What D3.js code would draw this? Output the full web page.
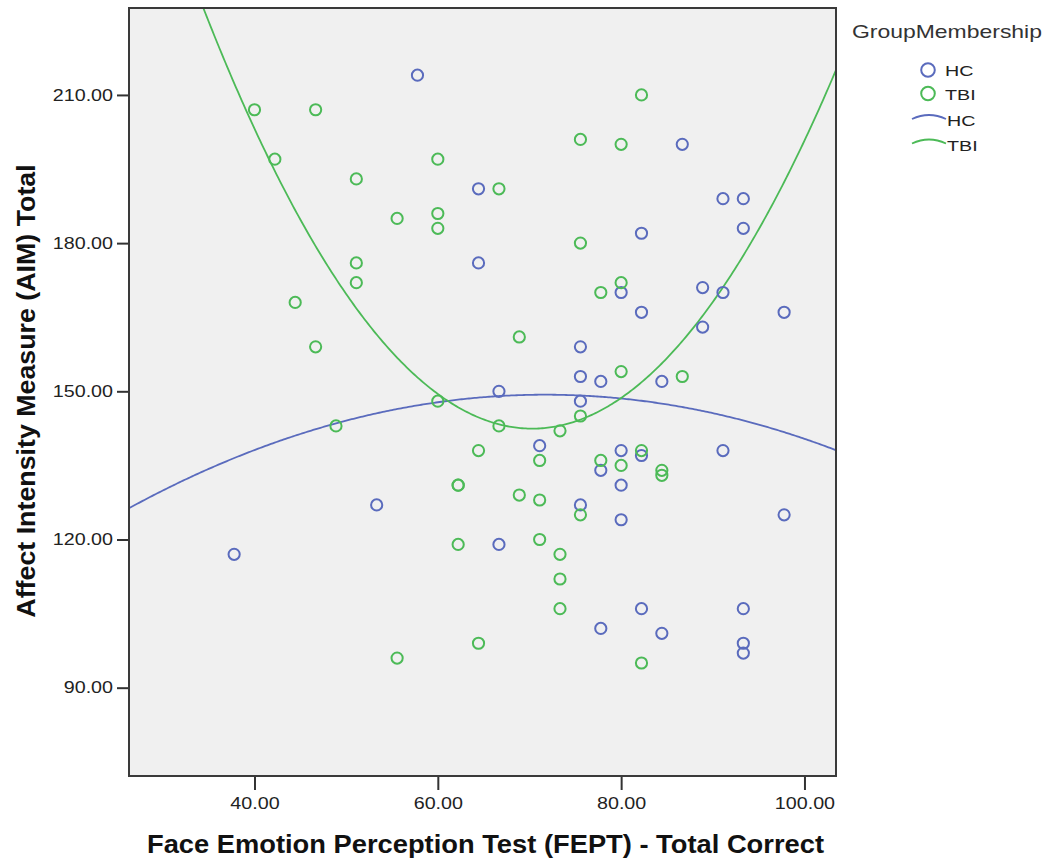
<!DOCTYPE html>
<html>
<head>
<meta charset="utf-8">
<script src="https://cdn.jsdelivr.net/npm/d3@7/dist/d3.min.js"></script>
<style>
  html, body { margin: 0; padding: 0; background: #ffffff; }
  svg { display: block; }
  text { font-family: "Liberation Sans", Arial, sans-serif; }
</style>
</head>
<body>
<svg id="chart" width="1045" height="861"></svg>
<script>
// ---------- data ----------
const groups = ["HC", "TBI"];
const groupColors = ["#5a6bbd", "#4cba57"];

// HC: FEPT total correct (%) and AIM total
const hcFept = [57.78, 64.44, 64.44, 86.67, 91.11, 93.33, 93.33, 82.22, 88.89, 91.11,
                80.00, 82.22, 97.78, 88.89, 75.56, 75.56, 77.78, 84.44, 66.67, 75.56,
                71.11, 80.00, 91.11, 82.22, 77.78, 80.00, 75.56, 80.00, 97.78, 53.33,
                37.78, 66.67, 82.22, 93.33, 77.78, 84.44, 93.33, 93.33];
const hcAim  = [214, 191, 176, 200, 189, 189, 183, 182, 171, 170,
                170, 166, 166, 163, 159, 153, 152, 152, 150, 148,
                139, 138, 138, 137, 134, 131, 127, 124, 125, 127,
                117, 119, 106, 106, 102, 101, 99, 97];

// TBI
const tbiFept = [40.00, 46.67, 42.22, 60.00, 66.67, 51.11, 55.56, 60.00, 60.00, 51.11,
                 51.11, 44.44, 46.67, 60.00, 48.89, 66.67, 82.22, 75.56, 80.00, 75.56,
                 80.00, 77.78, 68.89, 80.00, 86.67, 75.56, 73.33, 64.44, 62.22, 62.22,
                 62.22, 64.44, 55.56, 71.11, 77.78, 80.00, 82.22, 84.44, 84.44, 68.89,
                 71.11, 75.56, 71.11, 73.33, 73.33, 73.33, 82.22];
const tbiAim  = [207, 207, 197, 197, 191, 193, 185, 186, 183, 176,
                 172, 168, 159, 148, 143, 143, 210, 201, 200, 180,
                 172, 170, 161, 154, 153, 145, 142, 138, 131, 131,
                 119, 99, 96, 136, 136, 135, 138, 134, 133, 129,
                 128, 125, 120, 117, 112, 106, 95];

// quadratic fit lines: positions
const hcFitX  = [26.3, 31.9, 48.9, 59.9, 67.9, 73.35, 77.7, 88.6, 103.44];
const hcFitY  = [126.3, 131.5, 143.7, 147.7, 149.3, 149.7, 149.1, 144.9, 138.6];
const tbiFitX = [34.3, 39.2, 41.7, 47.9, 53.4, 60.6, 66.5, 70.4, 75.4, 79.8, 88.6, 96.0, 103.44];
const tbiFitY = [227.6, 206.6, 197.1, 176.2, 160.4, 148.3, 143.7, 142.6, 144.7, 148.9, 164.5, 183.8, 216.5];

const xTicks = [40, 60, 80, 100];
const yTicks = [90, 120, 150, 180, 210];
const xDomain = [26.31, 103.44];
const yDomain = [72.12, 227.6];

const xTitle = "Face Emotion Perception Test (FEPT) - Total Correct";
const yTitle = "Affect Intensity Measure (AIM) Total";
const legendTitle = "GroupMembership";

// ---------- layout ----------
const plot = { left: 129, right: 836, top: 8, bottom: 776 };
const svg = d3.select("#chart");

const x = d3.scaleLinear().domain(xDomain).range([plot.left, plot.right]);
const y = d3.scaleLinear().domain(yDomain).range([plot.bottom, plot.top]);

function stretch(sel, f) {
  sel.each(function () {
    const len = this.getComputedTextLength();
    d3.select(this).attr("textLength", len * f).attr("lengthAdjust", "spacingAndGlyphs");
  });
}

// least-squares quadratic (the chart's "quadratic fit line")
function quadFit(xs, ys) {
  const S = [[0,0,0],[0,0,0],[0,0,0]], T = [0,0,0];
  xs.forEach((xv, i) => {
    const p = [1, xv, xv * xv];
    for (let r = 0; r < 3; r++) { T[r] += p[r] * ys[i]; for (let c = 0; c < 3; c++) S[r][c] += p[r] * p[c]; }
  });
  const M = S.map((row, r) => row.concat([T[r]]));
  for (let i = 0; i < 3; i++)
    for (let k = i + 1; k < 3; k++) {
      const f = M[k][i] / M[i][i];
      for (let j = i; j < 4; j++) M[k][j] -= f * M[i][j];
    }
  const b = [0,0,0];
  for (let i = 2; i >= 0; i--) {
    let s = M[i][3];
    for (let j = i + 1; j < 3; j++) s -= M[i][j] * b[j];
    b[i] = s / M[i][i];
  }
  return v => b[0] + b[1] * v + b[2] * v * v;
}

// plot background
svg.append("rect")
  .attr("x", plot.left).attr("y", plot.top)
  .attr("width", plot.right - plot.left).attr("height", plot.bottom - plot.top)
  .attr("fill", "#f0f0f0");

svg.append("defs").append("clipPath").attr("id", "clip")
  .append("rect")
  .attr("x", plot.left).attr("y", plot.top)
  .attr("width", plot.right - plot.left).attr("height", plot.bottom - plot.top);

// axes
const fmt = d3.format(".2f");
const gx = svg.append("g")
  .attr("transform", `translate(0,${plot.bottom})`)
  .call(d3.axisBottom(x).tickValues(xTicks).tickFormat(fmt).tickSize(14).tickPadding(8));
const gy = svg.append("g")
  .attr("transform", `translate(${plot.left},0)`)
  .call(d3.axisLeft(y).tickValues(yTicks).tickFormat(fmt).tickSize(12).tickPadding(4));

[gx, gy].forEach(g => {
  g.select(".domain").remove();
  g.selectAll(".tick line").attr("stroke", "#333").attr("stroke-width", 2);
  g.selectAll(".tick text")
    .attr("fill", "#222")
    .style("font-family", "'Liberation Sans', Arial, sans-serif")
    .style("font-size", "16px");
  stretch(g.selectAll(".tick text"), 1.23);
});

// fit lines
const lineGen = d3.line().x(d => x(d[0])).y(d => y(d[1]));
const fits = [
  { xs: hcFitX, ys: hcFitY, color: groupColors[0] },
  { xs: tbiFitX, ys: tbiFitY, color: groupColors[1] }
];
const gLines = svg.append("g").attr("clip-path", "url(#clip)");
fits.forEach(f => {
  const fn = quadFit(f.xs, f.ys);
  const pts = x.ticks(300).concat(xDomain).sort((a, b) => a - b).map(v => [v, fn(v)]);
  gLines.append("path")
    .datum(pts)
    .attr("d", lineGen)
    .attr("fill", "none")
    .attr("stroke", f.color)
    .attr("stroke-width", 1.8);
});

// points
const series = [
  { xs: hcFept, ys: hcAim, color: groupColors[0] },
  { xs: tbiFept, ys: tbiAim, color: groupColors[1] }
];
const gPts = svg.append("g");
series.forEach(s => {
  gPts.selectAll(null)
    .data(s.xs.map((v, i) => [v, s.ys[i]]))
    .join("circle")
    .attr("cx", d => x(d[0]))
    .attr("cy", d => y(d[1]))
    .attr("r", 5.6)
    .attr("fill", "none")
    .attr("stroke", s.color)
    .attr("stroke-width", 2);
});

// frame
svg.append("rect")
  .attr("x", plot.left).attr("y", plot.top)
  .attr("width", plot.right - plot.left).attr("height", plot.bottom - plot.top)
  .attr("fill", "none").attr("stroke", "#3a3a3a").attr("stroke-width", 2);

// axis titles
const xt = svg.append("text")
  .attr("x", (plot.left + plot.right) / 2 + 3).attr("y", 853)
  .attr("text-anchor", "middle")
  .attr("font-weight", "bold").attr("font-size", 26).attr("fill", "#111")
  .text(xTitle);
stretch(xt, 1.05);

const yt = svg.append("text")
  .attr("transform", "translate(35,391) rotate(-90)")
  .attr("text-anchor", "middle")
  .attr("font-weight", "bold").attr("font-size", 26).attr("fill", "#111")
  .text(yTitle);
stretch(yt, 1.03);

// legend
const lg = svg.append("g");
const lt = lg.append("text").attr("x", 852).attr("y", 38)
  .attr("font-size", 18.5).attr("fill", "#333").text(legendTitle);
stretch(lt, 1.24);

groups.forEach((name, i) => {
  const cy = 70 + i * 23.5;
  lg.append("circle").attr("cx", 928).attr("cy", cy).attr("r", 6.8)
    .attr("fill", "none").attr("stroke", groupColors[i]).attr("stroke-width", 2);
  const t = lg.append("text").attr("x", 945).attr("y", cy + 6)
    .attr("font-size", 15.5).attr("fill", "#222").text(name);
  stretch(t, 1.27);
});
groups.forEach((name, i) => {
  const cy = 117 + i * 24.5;
  lg.append("path")
    .attr("d", `M912,${cy + 2} Q929,${cy - 6} 946,${cy + 2}`)
    .attr("fill", "none").attr("stroke", groupColors[i]).attr("stroke-width", 1.8);
  const t = lg.append("text").attr("x", 947).attr("y", cy + 9)
    .attr("font-size", 15.5).attr("fill", "#222").text(name);
  stretch(t, 1.27);
});
</script>
</body>
</html>
